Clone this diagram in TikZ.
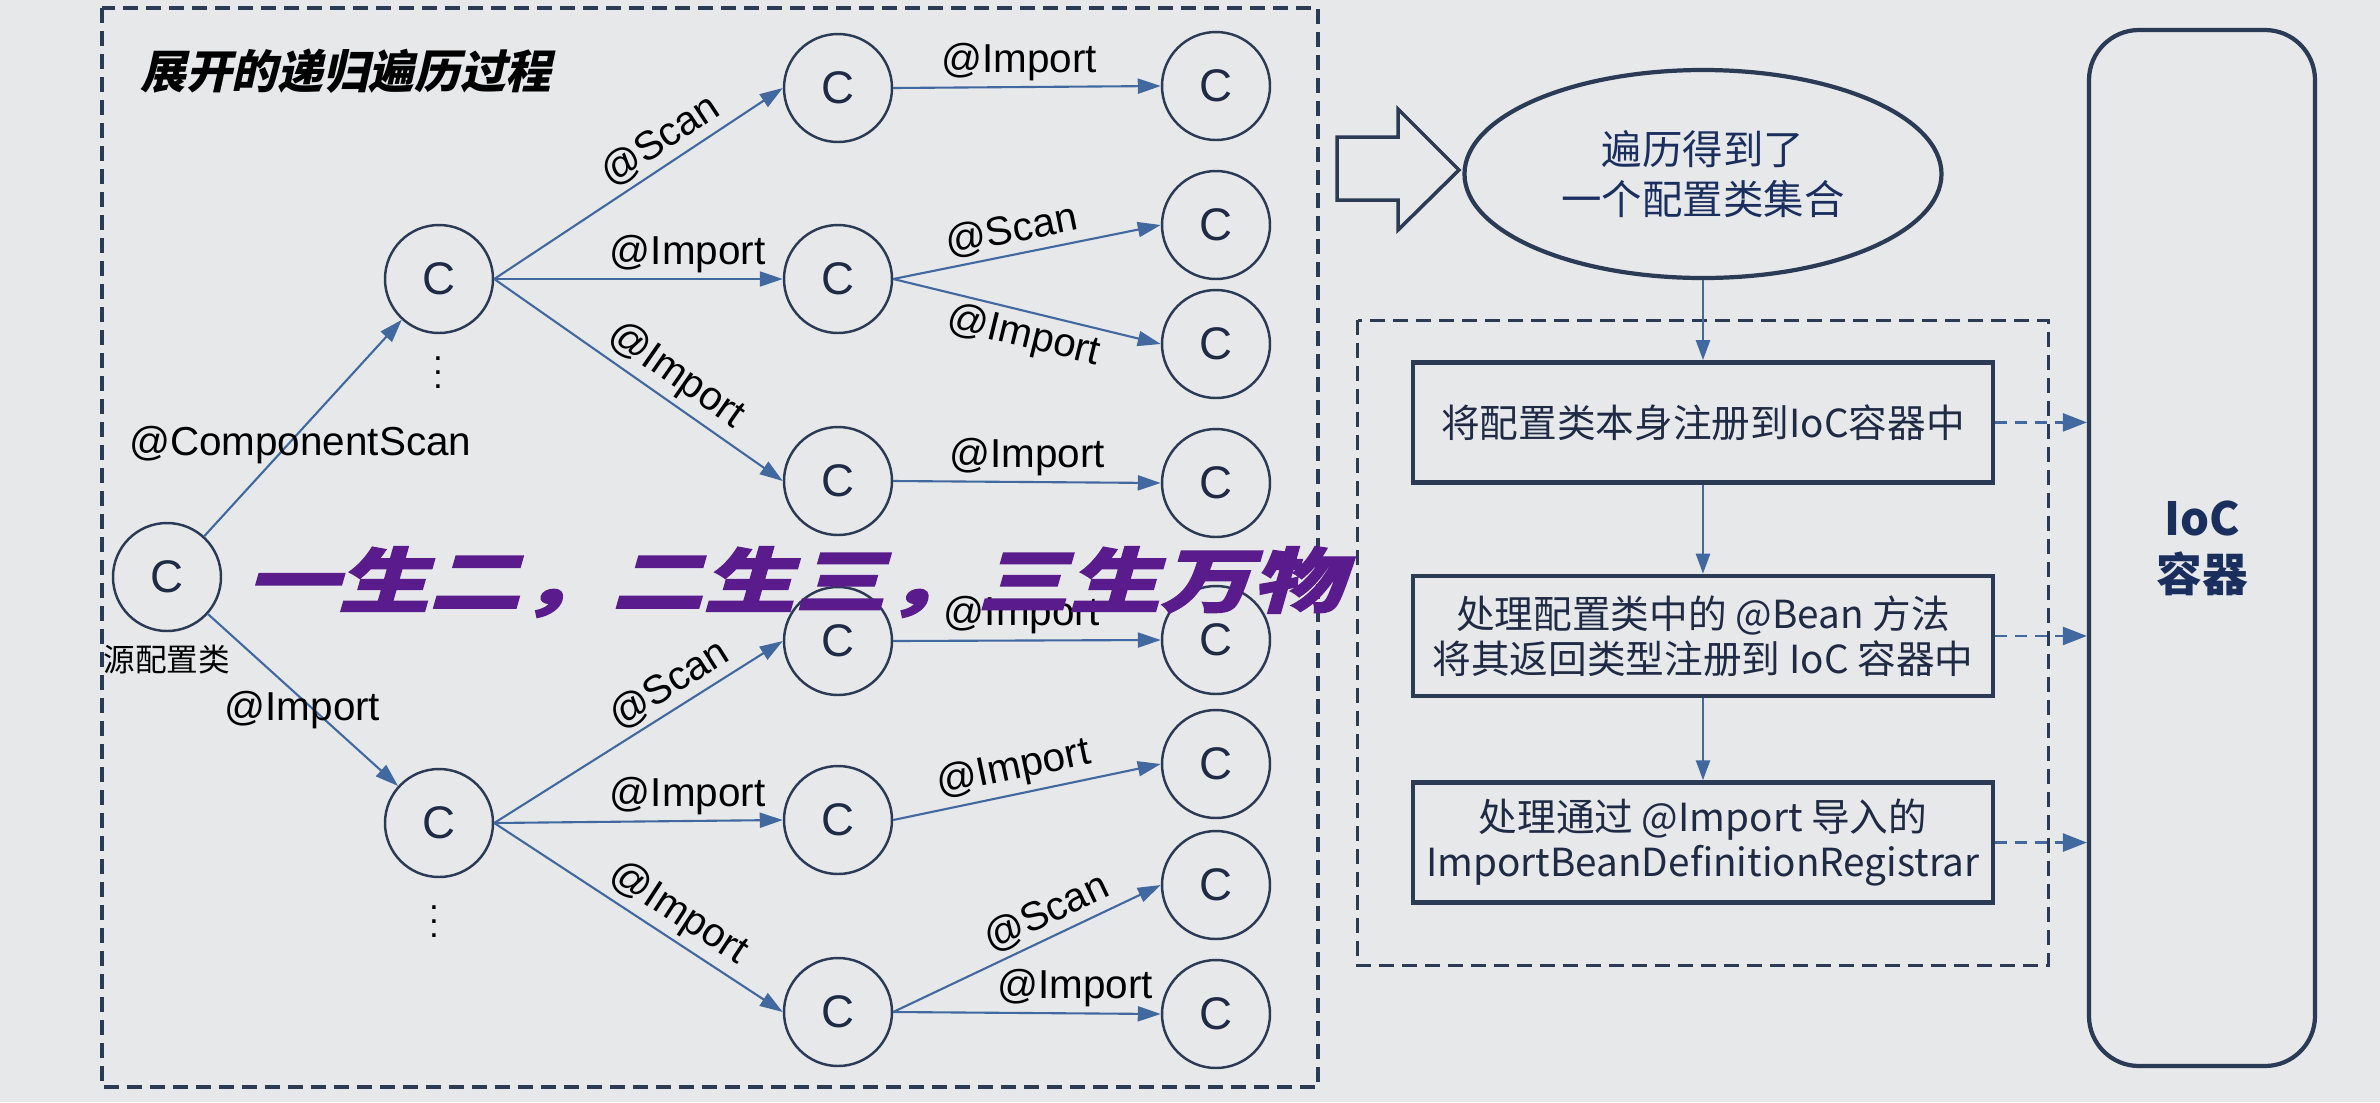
\documentclass[tikz,border=0pt]{standalone}
\usepackage{fontspec}
\usepackage{graphicx}
\setmainfont{Liberation Sans}
\newfontfamily\cjk{Noto Sans CJK SC}
\newfontfamily\cjkslant[FakeSlant=0.22]{Noto Sans CJK SC}
\newfontfamily\cjkheavy[FakeSlant=0.22,FakeBold=2]{Noto Sans CJK SC}
\usetikzlibrary{arrows.meta,positioning,shapes.geometric}
\definecolor{paper}{HTML}{E6E8EA}
\definecolor{navy}{HTML}{2B3A55}
\definecolor{steel}{HTML}{4169A0}
\definecolor{ink}{HTML}{1F2A44}
\definecolor{deepblue}{HTML}{1B2F5E}
\definecolor{violet}{HTML}{5A1C8C}
\tikzset{
 cls/.style={circle,draw=navy,line width=0.7pt,minimum size=1.08cm,inner sep=0pt,font=\fontsize{13}{13}\selectfont,text=ink},
 link/.style={-{Triangle[length=2.3mm,width=1.5mm]},draw=steel,line width=0.6pt},
 lbl/.style={font=\fontsize{11.5}{12}\selectfont,inner sep=1.5pt},
 frame/.style={draw=navy,line width=0.9pt,dash pattern=on 0.15cm off 0.08cm},
 oval/.style={ellipse,draw=navy,line width=1.2pt,minimum width=4.77cm,minimum height=2.08cm,align=center,text=deepblue,font=\cjk\fontsize{11.5}{14}\selectfont},
 stepbox/.style={draw=navy,line width=1.3pt,minimum width=5.8cm,minimum height=1.2cm,align=center,text=ink,font=\cjk\fontsize{11}{12.8}\selectfont},
 flow/.style={-{Triangle[length=2mm,width=1.4mm]},draw=steel,line width=0.7pt},
 toioc/.style={-{Triangle[length=2.4mm,width=1.8mm]},draw=steel,line width=0.7pt,dash pattern=on 0.12cm off 0.08cm},
 ioc/.style={draw=navy,line width=1.2pt,rounded corners=0.5cm,minimum width=2.26cm,minimum height=10.36cm,align=center,text=deepblue,font=\cjk\bfseries\fontsize{13}{16}\selectfont},
 hollow/.style={draw=navy,line width=1pt,line join=miter}
}
\begin{document}
\begin{tikzpicture}
\fill[paper] (0,0) rectangle (23.80,-11.02);
\useasboundingbox (0,0) rectangle (23.80,-11.02);
% expanded recursive traversal
\draw[frame] (1.02,-0.08) rectangle (13.18,-10.87);
\node[font=\cjkslant\bfseries\fontsize{13}{15}\selectfont] (title) at (3.46,-0.71) {展开的递归遍历过程};
\node[cls] (root) at (1.67,-5.77) {C};
\node[font=\cjk\fontsize{9}{10}\selectfont,inner sep=0pt] (src) at (1.67,-6.59) {源配置类};
\node[cls] (up) at (4.39,-2.79) {C};
\node[cls] (lo) at (4.39,-8.23) {C};
\node[font=\fontsize{10}{10}\selectfont] (updots) at (4.38,-3.62) {$\vdots$};
\node[font=\fontsize{10}{10}\selectfont] (lodots) at (4.34,-9.11) {$\vdots$};
\node[cls] (up1) at (8.38,-0.88) {C};
\node[cls] (up2) at (8.38,-2.79) {C};
\node[cls] (up3) at (8.38,-4.81) {C};
\node[cls] (lo1) at (8.38,-6.41) {C};
\node[cls] (lo2) at (8.38,-8.20) {C};
\node[cls] (lo3) at (8.38,-10.12) {C};
\node[cls] (up1a) at (12.16,-0.86) {C};
\node[cls] (up2a) at (12.16,-2.25) {C};
\node[cls] (up2b) at (12.16,-3.44) {C};
\node[cls] (up3a) at (12.16,-4.83) {C};
\node[cls] (lo1a) at (12.16,-6.40) {C};
\node[cls] (lo2a) at (12.16,-7.64) {C};
\node[cls] (lo3a) at (12.16,-8.85) {C};
\node[cls] (lo3b) at (12.16,-10.14) {C};
\draw[link] (root) -- node[lbl,pos=0.42,xshift=0.13cm] {@ComponentScan} (up);
\draw[link] (root) -- node[lbl,pos=0.56,xshift=-0.12cm] {@Import} (lo);
\draw[link] (up.east) -- node[lbl,above,sloped,pos=0.62] {@Scan} (up1.west);
\draw[link] (up.east) -- node[lbl,above,pos=0.67] {@Import} (up2.west);
\draw[link] (up.east) -- node[lbl,above,sloped,pos=0.58] {@Import} (up3.west);
\draw[link] (up1.east) -- node[lbl,above,pos=0.47] {@Import} (up1a.west);
\draw[link] (up2.east) -- node[lbl,above,sloped,pos=0.46] {@Scan} (up2a.west);
\draw[link] (up2.east) -- node[lbl,below,sloped,pos=0.51] {@Import} (up2b.west);
\draw[link] (up3.east) -- node[lbl,above,pos=0.5] {@Import} (up3a.west);
\draw[link] (lo.east) -- node[lbl,above,sloped,pos=0.65] {@Scan} (lo1.west);
\draw[link] (lo.east) -- node[lbl,above,pos=0.67] {@Import} (lo2.west);
\draw[link] (lo.east) -- node[lbl,above,sloped,pos=0.59] {@Import} (lo3.west);
\draw[link] (lo1.east) -- node[lbl,above,pos=0.48] {@Import} (lo1a.west);
\draw[link] (lo2.east) -- node[lbl,above,sloped,pos=0.47] {@Import} (lo2a.west);
\draw[link] (lo3.east) -- node[lbl,above,sloped,pos=0.61] {@Scan} (lo3a.west);
\draw[link] (lo3.east) -- node[lbl,above,pos=0.68] {@Import} (lo3b.west);
% registration steps
\draw[hollow] (13.37,-1.37) -- (13.98,-1.37) -- (13.98,-1.09) -- (14.59,-1.70) -- (13.98,-2.30) -- (13.98,-2.00) -- (13.37,-2.00) -- cycle;
\node[oval] (set) at (17.03,-1.74) {遍历得到了\\一个配置类集合};
\node[stepbox,below=0.80cm of set] (reg) {将配置类本身注册到IoC容器中};
\node[stepbox,below=0.89cm of reg] (bean) {处理配置类中的 @Bean 方法\\将其返回类型注册到 IoC 容器中};
\node[stepbox,below=0.82cm of bean] (imp) {处理通过 @Import 导入的\\ImportBeanDefinitionRegistrar};
\draw[frame] ([xshift=-0.53cm,yshift=0.40cm]reg.north west) rectangle ([xshift=0.53cm,yshift=-0.61cm]imp.south east);
\node[ioc] (ioc) at (22.02,-5.48) {IoC\\容器};
\draw[flow] (set) -- (reg);
\draw[flow] (reg) -- (bean);
\draw[flow] (bean) -- (imp);
\draw[toioc] (reg.east) -- (reg.east -| ioc.west);
\draw[toioc] (bean.east) -- (bean.east -| ioc.west);
\draw[toioc] (imp.east) -- (imp.east -| ioc.west);
% slogan over the tree
\node[text=violet,font=\cjkheavy\bfseries\fontsize{20}{20}\selectfont,inner sep=0pt] (motto) at (7.95,-5.82) {\scalebox{1.3}[1]{一生二，二生三，三生万物}};
\end{tikzpicture}
\end{document}
